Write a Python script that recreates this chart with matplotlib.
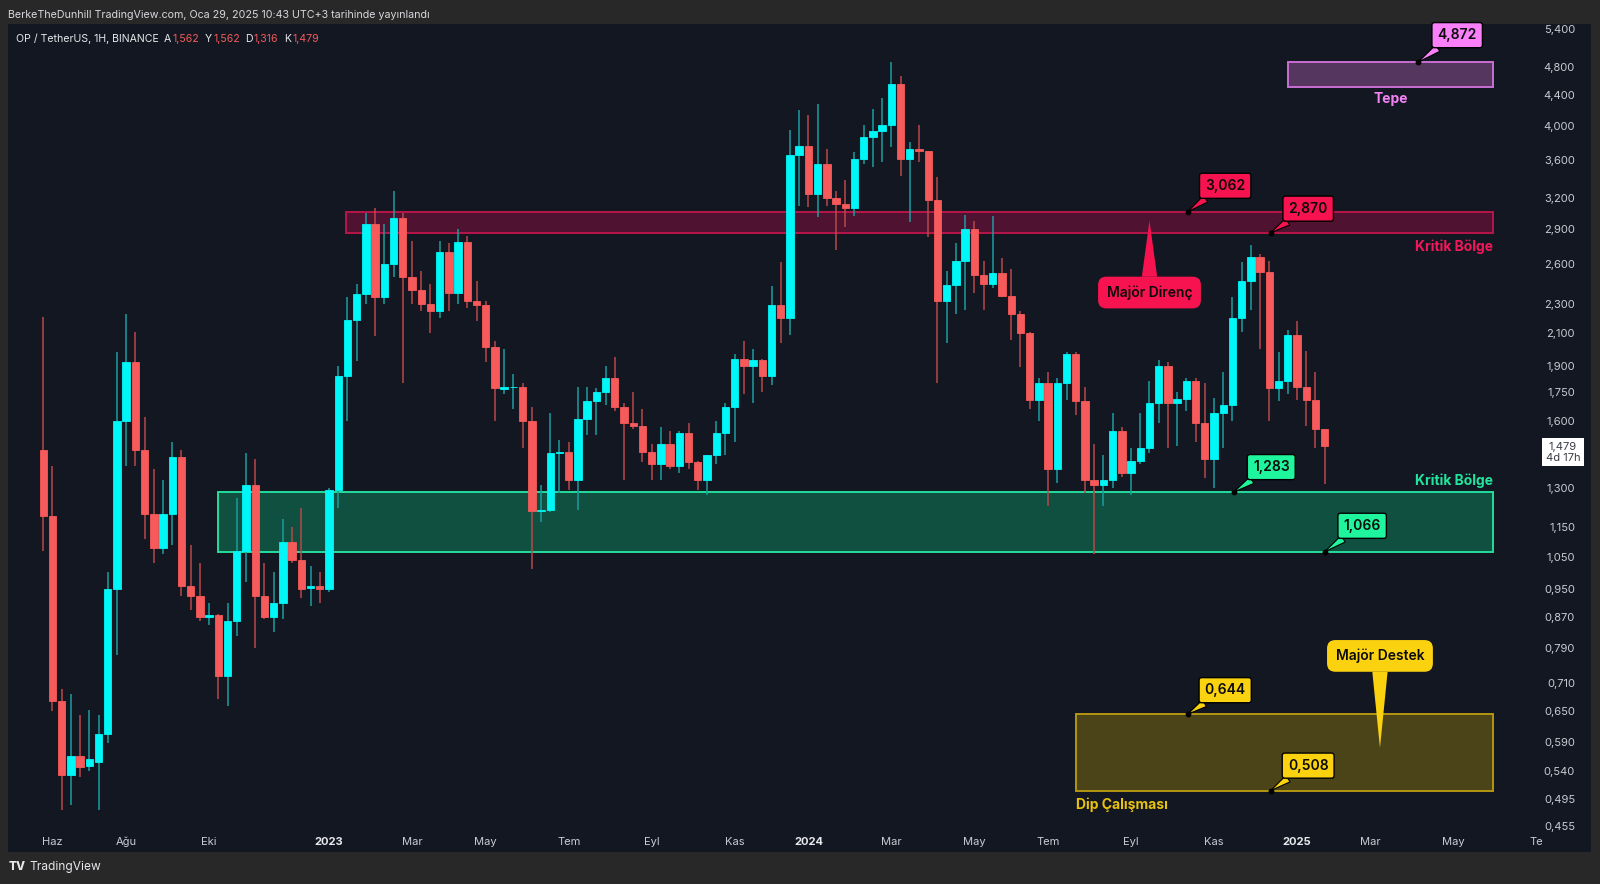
import numpy as np
import pandas as pd
import matplotlib
matplotlib.use("Agg")
import matplotlib.pyplot as plt
import matplotlib.dates as mdates
from matplotlib.patches import Rectangle
from matplotlib.ticker import NullLocator, NullFormatter

plt.rcParams['font.family'] = ['Inter', 'DejaVu Sans']

# ---------------- data (weekly OP/USDT candles) ----------------
first_week = "2022-05-30"
opens = [1.46, 1.19, 0.671, 0.533, 0.565, 0.548, 0.556, 0.606, 0.95, 1.60,
         1.92, 1.46, 1.20, 1.08, 1.20, 1.43, 0.96, 0.93, 0.870, 0.875,
         0.725, 0.86, 1.07, 1.31, 0.93, 0.87, 0.91, 1.10, 1.04, 0.952,
         0.96, 0.95, 1.29, 1.84, 2.19, 2.37, 2.95, 2.35, 2.60, 3.00,
         2.50, 2.40, 2.30, 2.25, 2.70, 2.38, 2.79, 2.32, 2.29, 2.01,
         1.765, 1.775, 1.78, 1.60, 1.21, 1.215, 1.45, 1.455, 1.33, 1.61,
         1.70, 1.75, 1.83, 1.67, 1.59, 1.575, 1.455, 1.40, 1.49, 1.39,
         1.54, 1.41, 1.33, 1.44, 1.54, 1.67, 1.94, 1.90, 1.935, 1.84,
         2.29, 2.20, 3.65, 3.76, 3.24, 3.55, 3.20, 3.14, 3.10, 3.61,
         3.86, 3.93, 4.01, 4.55, 3.61, 3.72, 3.70, 3.18, 2.32, 2.44,
         2.63, 2.90, 2.52, 2.45, 2.53, 2.36, 2.23, 2.10, 1.71, 1.80,
         1.38, 1.80, 1.97, 1.70, 1.33, 1.31, 1.33, 1.55, 1.36, 1.415,
         1.47, 1.69, 1.90, 1.69, 1.715, 1.81, 1.59, 1.42, 1.64, 1.68,
         2.20, 2.47, 2.66, 2.54, 1.77, 1.81, 2.09, 1.78, 1.71, 1.562]
highs = [2.21, 1.39, 0.696, 0.685, 0.642, 0.653, 0.642, 1.00, 1.98, 2.23,
         2.11, 1.62, 1.38, 1.33, 1.50, 1.46, 1.09, 1.03, 0.91, 0.88,
         0.91, 1.26, 1.45, 1.42, 1.03, 1.00, 1.18, 1.15, 1.22, 1.02,
         1.00, 1.30, 1.90, 2.35, 2.45, 3.05, 3.10, 2.95, 3.27, 3.05,
         2.80, 2.55, 2.45, 2.80, 2.78, 2.90, 2.84, 2.47, 2.32, 2.05,
         2.00, 1.85, 1.80, 1.67, 1.31, 1.64, 1.51, 1.50, 1.78, 1.78,
         1.77, 1.90, 1.95, 1.69, 1.75, 1.66, 1.49, 1.57, 1.55, 1.55,
         1.59, 1.415, 1.44, 1.60, 1.69, 1.97, 2.05, 2.00, 1.94, 2.43,
         2.62, 3.95, 4.20, 4.14, 4.28, 3.72, 3.27, 3.38, 3.69, 4.01,
         4.21, 4.36, 4.872, 4.66, 3.80, 4.01, 3.70, 3.41, 2.55, 2.78,
         3.03, 2.98, 2.63, 3.02, 2.65, 2.56, 2.25, 2.11, 1.83, 1.86,
         1.83, 1.98, 1.98, 1.78, 1.49, 1.44, 1.64, 1.57, 1.47, 1.64,
         1.81, 1.935, 1.92, 1.75, 1.83, 1.83, 1.80, 1.72, 1.86, 2.35,
         2.62, 2.76, 2.69, 2.63, 1.98, 2.12, 2.18, 1.99, 1.86, 1.562]
lows = [1.07, 0.65, 0.479, 0.486, 0.530, 0.540, 0.479, 0.588, 0.773, 1.39,
        1.39, 1.11, 1.03, 1.06, 1.09, 0.93, 0.89, 0.86, 0.85, 0.675,
        0.66, 0.82, 0.97, 0.79, 0.865, 0.83, 0.865, 1.03, 0.925, 0.90,
        0.91, 0.94, 1.22, 1.60, 1.93, 2.30, 2.08, 2.30, 2.50, 1.80,
        2.30, 2.25, 2.10, 2.20, 2.25, 2.30, 2.27, 2.18, 1.92, 1.60,
        1.74, 1.66, 1.47, 1.01, 1.17, 1.205, 1.28, 1.29, 1.215, 1.53,
        1.53, 1.68, 1.65, 1.33, 1.56, 1.41, 1.33, 1.33, 1.38, 1.36,
        1.38, 1.29, 1.27, 1.40, 1.44, 1.50, 1.74, 1.69, 1.75, 1.79,
        2.04, 2.09, 3.12, 3.11, 3.01, 3.12, 2.72, 2.92, 3.02, 3.55,
        3.52, 3.57, 3.74, 3.42, 2.97, 3.57, 2.83, 1.80, 2.04, 2.23,
        2.26, 2.38, 2.26, 2.42, 2.35, 2.06, 1.89, 1.66, 1.60, 1.23,
        1.32, 1.71, 1.63, 1.28, 1.06, 1.23, 1.30, 1.345, 1.27, 1.40,
        1.45, 1.59, 1.47, 1.48, 1.65, 1.50, 1.34, 1.30, 1.47, 1.60,
        2.11, 2.26, 2.00, 1.60, 1.70, 1.74, 1.71, 1.575, 1.47, 1.316]
closes = [1.19, 0.671, 0.533, 0.565, 0.546, 0.560, 0.606, 0.95, 1.60, 1.92,
          1.46, 1.20, 1.08, 1.20, 1.43, 0.96, 0.93, 0.87, 0.875, 0.725,
          0.86, 1.07, 1.31, 0.93, 0.87, 0.91, 1.10, 1.04, 0.95, 0.96,
          0.95, 1.29, 1.84, 2.19, 2.37, 2.95, 2.35, 2.60, 3.00, 2.50,
          2.40, 2.30, 2.25, 2.70, 2.38, 2.79, 2.32, 2.29, 2.01, 1.77,
          1.775, 1.78, 1.60, 1.21, 1.215, 1.45, 1.455, 1.33, 1.61, 1.70,
          1.75, 1.83, 1.67, 1.59, 1.575, 1.455, 1.40, 1.49, 1.39, 1.54,
          1.41, 1.33, 1.44, 1.54, 1.67, 1.94, 1.90, 1.935, 1.84, 2.29,
          2.20, 3.65, 3.76, 3.24, 3.55, 3.20, 3.14, 3.10, 3.61, 3.86,
          3.93, 4.01, 4.55, 3.61, 3.72, 3.70, 3.18, 2.32, 2.44, 2.63,
          2.90, 2.52, 2.45, 2.53, 2.36, 2.23, 2.10, 1.71, 1.80, 1.38,
          1.80, 1.97, 1.70, 1.33, 1.31, 1.33, 1.55, 1.36, 1.415, 1.47,
          1.69, 1.90, 1.69, 1.715, 1.81, 1.59, 1.42, 1.64, 1.68, 2.20,
          2.47, 2.66, 2.54, 1.77, 1.81, 2.09, 1.78, 1.71, 1.562, 1.479]

ytick_values = [5.4, 4.8, 4.4, 4.0, 3.6, 3.2, 2.9, 2.6, 2.3, 2.1, 1.9, 1.75, 1.6,
                1.3, 1.15, 1.05, 0.95, 0.87, 0.79, 0.71, 0.65, 0.59, 0.54, 0.495, 0.455]
xtick_dates = ["2022-06-06", "2022-08-01", "2022-10-03", "2023-01-02", "2023-03-06",
               "2023-05-01", "2023-07-03", "2023-09-04", "2023-11-06", "2024-01-01",
               "2024-03-04", "2024-05-06", "2024-07-01", "2024-09-02", "2024-11-04",
               "2025-01-06", "2025-03-03", "2025-05-05", "2025-07-07"]
xtick_labels = ["Haz", "Ağu", "Eki", "2023", "Mar", "May", "Tem", "Eyl", "Kas", "2024",
                "Mar", "May", "Tem", "Eyl", "Kas", "2025", "Mar", "May", "Te"]

zone_end = "2025-06-04"
resistance_zone = ["2023-01-15", 2.870, 3.062]
support_zone = ["2022-10-10", 1.066, 1.283]
bottom_zone = ["2024-07-22", 0.508, 0.644]
top_zone = ["2024-12-30", 4.51, 4.872]

last_price = 1.479
legend_values = ["1,562", "1,562", "1,316", "1,479"]

# ---------------- figure ----------------
W, H, DPI = 1600, 884, 100
fig = plt.figure(figsize=(W / DPI, H / DPI), dpi=DPI, facecolor='#282828')

def fx(px):
    return px / W

def fy(py):
    return 1 - py / H

fig.patches.append(Rectangle((fx(8), fy(852)), fx(1591) - fx(8), fy(24) - fy(852),
                             transform=fig.transFigure, fc='#131722', ec='none', zorder=-10))

ax = fig.add_axes([fx(8), fy(833), fx(1591) - fx(8), fy(24) - fy(833)])
ax.set_facecolor('#131722')
ax.set_yscale('log')
ax.set_ylim(0.4454, 5.484)

x0 = pd.Timestamp("2023-01-02")
ppd = 1.317  # pixels per day
xl = mdates.date2num(x0 - pd.Timedelta(days=(329 - 8) / ppd))
xr = mdates.date2num(x0 + pd.Timedelta(days=(1591 - 329) / ppd))
ax.set_xlim(xl, xr)

for s in ax.spines.values():
    s.set_visible(False)

def D(s):
    return mdates.date2num(pd.Timestamp(s))

# ---------------- zones ----------------
zend = D(zone_end)
def zone(z, fc, ec):
    x = D(z[0])
    ax.add_patch(Rectangle((x, z[1]), zend - x, z[2] - z[1], fc=fc, ec=ec, lw=1.4, zorder=2))

zone(resistance_zone, '#4f1231', '#b8154a')
zone(support_zone, '#0f5040', '#25dc9c')
zone(bottom_zone, '#4c4419', '#b39610')
zone(top_zone, '#55365e', '#c86fd2')

# ---------------- candles ----------------
o = np.array(opens); h = np.array(highs); l = np.array(lows); c = np.array(closes)
dates = mdates.date2num(pd.date_range(first_week, periods=len(o), freq='7D'))
up = c >= o
body_col = np.where(up, '#00f7f7', '#f75a5a')
wick_col = np.where(up, '#1a9e9e', '#b94848')
ax.vlines(dates, l, h, colors=wick_col, lw=1.1, zorder=3)
ax.bar(dates, np.abs(c - o), bottom=np.minimum(o, c), width=5.6,
       color=body_col, edgecolor=body_col, lw=0.6, zorder=4)

# ---------------- axes ticks ----------------
ax.yaxis.tick_right()
ax.set_yticks(ytick_values)
ax.set_yticklabels([f"{v:.3f}".replace('.', ',') for v in ytick_values])
ax.yaxis.set_minor_locator(NullLocator())
ax.yaxis.set_minor_formatter(NullFormatter())
ax.tick_params(axis='y', which='both', length=0, pad=-11.5, labelsize=8, labelcolor='#c9ccd3')
for lab in ax.get_yticklabels():
    lab.set_horizontalalignment('right')

ax.set_xticks([D(s) for s in xtick_dates])
ax.set_xticklabels(xtick_labels)
ax.tick_params(axis='x', length=0, pad=8.6, labelsize=8, labelcolor='#c9ccd3')
for lab in ax.get_xticklabels():
    lab.set_verticalalignment('baseline')
    if lab.get_text().isdigit():
        lab.set_fontweight('bold')
        lab.set_color('#e8e9ec')

# ---------------- callouts ----------------
def price_callout(date, price, text, color, dx=37.5, dy=25):
    ax.annotate(text, xy=(D(date), price), xytext=(dx, dy), textcoords='offset pixels',
                ha='center', va='center', fontsize=10, fontweight='semibold', color='#0b0b0b',
                bbox=dict(boxstyle='round,pad=0.4,rounding_size=0.18', fc=color, ec='#000000', lw=1.0),
                arrowprops=dict(arrowstyle='wedge,tail_width=0.55,shrink_factor=0.5', fc=color,
                                ec='#000000', lw=0.8, relpos=(0.22, 0.0), shrinkA=0, shrinkB=0),
                zorder=8)
    ax.plot(D(date), price, 'o', ms=3.2, color='#000000', zorder=9)

price_callout("2024-10-15", 3.062, "3,062", '#f7134f', dy=26)
price_callout("2024-12-17", 2.870, "2,870", '#f7134f', dy=24)
price_callout("2024-11-19", 1.283, "1,283", '#1ff59d', dy=25)
price_callout("2025-01-27", 1.066, "1,066", '#1ff59d', dy=26)
price_callout("2024-10-15", 0.644, "0,644", '#fad20f', dy=24)
price_callout("2024-12-17", 0.508, "0,508", '#fad20f', dy=25)
price_callout("2025-04-08", 4.872, "4,872", '#fa80fa', dx=39, dy=27)

def big_callout(date, price, text, color, dy):
    ax.annotate(text, xy=(D(date), price), xytext=(0, dy), textcoords='offset pixels',
                ha='center', va='center', fontsize=10, fontweight='semibold', color='#0b0b0b',
                bbox=dict(boxstyle='round,pad=0.62,rounding_size=0.6', fc=color, ec='none'),
                arrowprops=dict(arrowstyle='wedge,tail_width=1.1,shrink_factor=0.5', fc=color,
                                ec='none', relpos=(0.5, 0.5), shrinkA=0, shrinkB=0),
                zorder=8)

big_callout("2024-09-16", 2.98, "Majör Direnç", '#f7134f', dy=-72)
big_callout("2025-03-10", 0.58, "Majör Destek", '#fad20f', dy=92)

# ---------------- zone labels ----------------
ax.annotate("Kritik Bölge", xy=(zend, resistance_zone[1]), xytext=(0, -14), textcoords='offset pixels',
            ha='right', va='center', fontsize=10, fontweight='bold', color='#f2175a', zorder=8)
ax.annotate("Kritik Bölge", xy=(zend, support_zone[2]), xytext=(0, 11), textcoords='offset pixels',
            ha='right', va='center', fontsize=10, fontweight='bold', color='#22e49c', zorder=8)
ax.annotate("Tepe", xy=((D(top_zone[0]) + zend) / 2, top_zone[1]), xytext=(0, -12), textcoords='offset pixels',
            ha='center', va='center', fontsize=10, fontweight='bold', color='#f282f2', zorder=8)
ax.annotate("Dip Çalışması", xy=(D(bottom_zone[0]), bottom_zone[1]), xytext=(0, -14), textcoords='offset pixels',
            ha='left', va='center', fontsize=10, fontweight='bold', color='#e9c20c', zorder=8)

# ---------------- last price label ----------------
ax.annotate("1,479\n4d 17h", xy=(1, last_price), xycoords=('axes fraction', 'data'),
            xytext=(-28, -6), textcoords='offset pixels', ha='center', va='center',
            fontsize=8, color='#3a3d45', linespacing=1.1,
            bbox=dict(boxstyle='square,pad=0.32', fc='#ffffff', ec='none'), zorder=10)

# ---------------- header / footer text ----------------
fig.text(fx(8), fy(15), "BerkeTheDunhill TradingView.com, Oca 29, 2025 10:43 UTC+3 tarihinde yayınlandı",
         color='#d6d8dd', fontsize=7.7, va='center', ha='left')
fig.text(fx(16), fy(38.5), "OP / TetherUS, 1H, BINANCE", color='#e6e7ea', fontsize=7.6, va='center', ha='left')
for letter, lx, val in zip(["A", "Y", "D", "K"], [164, 205, 245, 284], legend_values):
    fig.text(fx(lx), fy(38.5), letter, color='#e6e7ea', fontsize=7.6, va='center', ha='left')
    fig.text(fx(lx + 8.5), fy(38.5), val, color='#f25a5a', fontsize=7.6, va='center', ha='left')

fig.text(fx(9), fy(867), "TV", color='#e6e7ea', fontsize=8.5, fontweight='heavy', va='center', ha='left')
fig.text(fx(29), fy(867), "TradingView", color='#e6e7ea', fontsize=8.6, va='center', ha='left')

fig.savefig("out.png", dpi=DPI, facecolor=fig.get_facecolor())
